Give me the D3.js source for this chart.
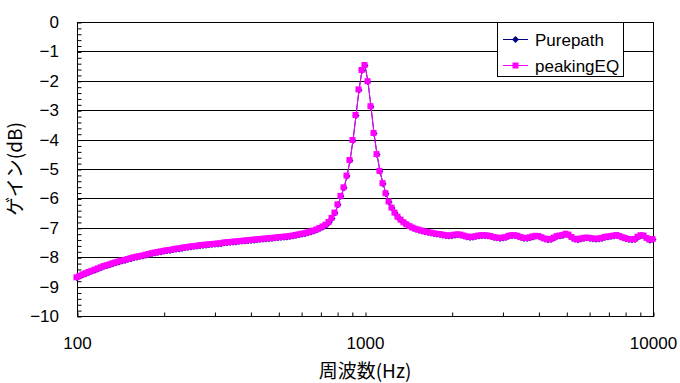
<!DOCTYPE html>
<html>
<head>
<meta charset="utf-8">
<script src="https://cdn.jsdelivr.net/npm/d3@7"></script>
<style>
  body { margin: 0; background: #fff; }
  svg { display: block; }
</style>
</head>
<body>
<div id="chart"></div>
<script>
// frequency grid (Hz)
const freqs = [
  100, 102.4, 104.9, 107.5, 110.1, 112.7, 115.5, 118.3, 121.2, 124.1,
  127.1, 130.2, 133.4, 136.6, 139.9, 143.3, 146.8, 150.3, 154.0, 157.7,
  161.6, 165.5, 169.5, 173.6, 177.8, 182.1, 186.6, 191.1, 195.7, 200.5,
  205.4, 210.3, 215.4, 220.7, 226.0, 231.5, 237.1, 242.9, 248.8, 254.8,
  261.0, 267.4, 273.8, 280.5, 287.3, 294.3, 301.4, 308.7, 316.2, 323.9,
  331.8, 339.8, 348.1, 356.5, 365.2, 374.0, 383.1, 392.4, 401.9, 411.7,
  421.7, 431.9, 442.4, 453.2, 464.2, 475.4, 487.0, 498.8, 510.9, 523.3,
  536.0, 549.0, 562.3, 576.0, 590.0, 604.3, 619.0, 634.0, 649.4, 665.1,
  681.3, 697.8, 714.8, 732.1, 749.9, 768.1, 786.7, 805.8, 825.4, 845.4,
  866.0, 887.0, 908.5, 930.6, 953.2, 976.3, 1000,
  1024, 1049, 1075, 1101, 1127, 1155, 1183, 1212, 1241, 1271,
  1302, 1334, 1366, 1399, 1433, 1468, 1503, 1540, 1577, 1616,
  1655, 1695, 1736, 1778, 1821, 1866, 1911, 1957, 2005, 2054,
  2103, 2154, 2207, 2260, 2315, 2371, 2429, 2488, 2548, 2610,
  2674, 2738, 2805, 2873, 2943, 3014, 3087, 3162, 3239, 3318,
  3398, 3481, 3565, 3652, 3740, 3831, 3924, 4019, 4117, 4217,
  4319, 4424, 4532, 4642, 4754, 4870, 4988, 5109, 5233, 5360,
  5490, 5623, 5760, 5900, 6043, 6190, 6340, 6494, 6651, 6813,
  6978, 7148, 7321, 7499, 7681, 7867, 8058, 8254, 8454, 8660,
  8870, 9085, 9306, 9532, 9763, 10000
];

// gain (dB) of the peakingEQ series
const peakingGain = [
  -8.70, -8.65, -8.60, -8.56, -8.52, -8.48, -8.44, -8.40, -8.36, -8.32,
  -8.29, -8.26, -8.22, -8.19, -8.16, -8.13, -8.11, -8.08, -8.05, -8.02,
  -8.00, -7.98, -7.96, -7.93, -7.91, -7.88, -7.86, -7.84, -7.82, -7.80,
  -7.78, -7.77, -7.75, -7.73, -7.72, -7.70, -7.68, -7.67, -7.65, -7.64,
  -7.63, -7.61, -7.60, -7.59, -7.58, -7.57, -7.56, -7.55, -7.54, -7.52,
  -7.51, -7.50, -7.49, -7.48, -7.47, -7.46, -7.45, -7.44, -7.43, -7.42,
  -7.41, -7.40, -7.39, -7.38, -7.37, -7.36, -7.35, -7.34, -7.33, -7.32,
  -7.31, -7.30, -7.28, -7.26, -7.24, -7.22, -7.20, -7.17, -7.14, -7.11,
  -7.07, -7.02, -6.97, -6.91, -6.82, -6.68, -6.50, -6.22, -5.93, -5.64,
  -5.24, -4.71, -4.03, -3.18, -2.31, -1.65, -1.48, -2.03, -2.88, -3.79,
  -4.51, -5.08, -5.50, -5.84, -6.12, -6.33, -6.50, -6.64, -6.74, -6.83,
  -6.90, -6.96, -7.01, -7.05, -7.08, -7.11, -7.14, -7.16, -7.18, -7.20,
  -7.22, -7.23, -7.25, -7.27, -7.28, -7.27, -7.25, -7.24, -7.25, -7.28,
  -7.31, -7.33, -7.32, -7.30, -7.28, -7.27, -7.27, -7.28, -7.30, -7.33,
  -7.35, -7.36, -7.35, -7.33, -7.29, -7.27, -7.27, -7.29, -7.33, -7.36,
  -7.36, -7.34, -7.31, -7.29, -7.30, -7.34, -7.38, -7.41, -7.40, -7.35,
  -7.30, -7.28, -7.26, -7.22, -7.25, -7.33, -7.39, -7.41, -7.38, -7.36,
  -7.35, -7.36, -7.38, -7.39, -7.38, -7.36, -7.33, -7.31, -7.30, -7.28,
  -7.26, -7.30, -7.34, -7.37, -7.40, -7.41, -7.40, -7.32, -7.27, -7.28,
  -7.36, -7.42, -7.40
];

// Purepath sits right under peakingEQ (only its marker tips peek out)
const purepathGain = peakingGain.slice();

const seriesNames = ["Purepath", "peakingEQ"];
const xMajor = [100, 1000, 10000];
const xMinor = [200, 300, 400, 500, 600, 700, 800, 900,
                2000, 3000, 4000, 5000, 6000, 7000, 8000, 9000];
const yMajor = [0, -1, -2, -3, -4, -5, -6, -7, -8, -9, -10];

const width = 680, height = 383;
const plotL = 77, plotR = 653, plotT = 22, plotB = 316;
const latin = "'Liberation Sans', Arial, sans-serif";
const cjk = "'Noto Sans CJK JP', sans-serif";

const svg = d3.select("#chart").append("svg")
  .attr("width", width)
  .attr("height", height);

const x = d3.scaleLog().domain([100, 10000]).range([plotL, plotR]);
const y = d3.scaleLinear().domain([0, -10]).range([plotT, plotB]);

// gridlines
svg.append("g")
  .selectAll("line")
  .data(yMajor)
  .join("line")
  .attr("x1", plotL).attr("x2", plotR)
  .attr("y1", d => Math.round(y(d)) + 0.5)
  .attr("y2", d => Math.round(y(d)) + 0.5)
  .attr("stroke", "#000");

// plot border
svg.append("rect")
  .attr("x", plotL + 0.5).attr("y", plotT + 0.5)
  .attr("width", plotR - plotL).attr("height", plotB - plotT)
  .attr("fill", "none").attr("stroke", "#000");

// y minor ticks (inside)
svg.append("g")
  .attr("transform", `translate(${plotL + 0.5},0.5)`)
  .call(d3.axisLeft(y).tickValues(d3.range(0, -10.01, -0.2)).tickSize(-4).tickFormat(""))
  .call(g => g.select(".domain").remove())
  .selectAll("line").attr("stroke", "#000");

// y labels
svg.append("g")
  .attr("transform", `translate(${plotL},0)`)
  .call(d3.axisLeft(y).tickValues(yMajor).tickSize(0).tickPadding(18)
    .tickFormat(d => d === 0 ? "0" : "\u2212" + Math.abs(d)))
  .call(g => g.select(".domain").remove())
  .selectAll("text")
  .attr("font-family", latin)
  .attr("font-size", 17)
  .attr("fill", "#000");

// x ticks (inside)
svg.append("g")
  .attr("transform", `translate(0.5,${plotB + 0.5})`)
  .call(d3.axisBottom(x).tickValues(xMajor.concat(xMinor)).tickSize(-4).tickFormat(""))
  .call(g => g.select(".domain").remove())
  .selectAll("line").attr("stroke", "#000");

// x labels
svg.append("g")
  .attr("transform", `translate(0,${plotB})`)
  .call(d3.axisBottom(x).tickValues(xMajor).tickSize(0).tickPadding(21)
    .tickFormat(d3.format("d")))
  .call(g => g.select(".domain").remove())
  .selectAll("text")
  .attr("font-family", latin)
  .attr("font-size", 17)
  .attr("fill", "#000");

// axis titles
svg.append("text")
  .attr("transform", `translate(22,${(plotT + plotB) / 2}) rotate(-90)`)
  .attr("text-anchor", "middle")
  .attr("font-family", cjk)
  .attr("font-size", 19)
  .text("ゲイン(dB)");

svg.append("text")
  .attr("x", (plotL + plotR) / 2)
  .attr("y", 378)
  .attr("text-anchor", "middle")
  .attr("font-family", cjk)
  .attr("font-size", 19)
  .text("周波数(Hz)");

const line = d3.line().x(d => x(d[0])).y(d => y(d[1]));
const pure = freqs.map((f, i) => [f, purepathGain[i]]);
const peak = freqs.map((f, i) => [f, peakingGain[i]]);

const diamond = (cx, cy, r) => `M${cx},${cy - r}L${cx + r},${cy}L${cx},${cy + r}L${cx - r},${cy}Z`;

// Purepath
svg.append("path")
  .attr("d", line(pure))
  .attr("fill", "none")
  .attr("stroke", "#000080");
svg.append("g")
  .selectAll("path")
  .data(pure)
  .join("path")
  .attr("d", d => diamond(x(d[0]), y(d[1]), 3.5))
  .attr("fill", "#000080");

// peakingEQ
svg.append("path")
  .attr("d", line(peak))
  .attr("fill", "none")
  .attr("stroke", "#ff00ff");
svg.append("g")
  .selectAll("rect")
  .data(peak)
  .join("rect")
  .attr("x", d => x(d[0]) - 3.5)
  .attr("y", d => y(d[1]) - 3.5)
  .attr("width", 6).attr("height", 6)
  .attr("fill", "#ff00ff");

// legend
const legend = svg.append("g");
legend.append("rect")
  .attr("x", 497.5).attr("y", 22.5)
  .attr("width", 126).attr("height", 54)
  .attr("fill", "#fff").attr("stroke", "#000");

const rows = legend.selectAll("g.row")
  .data(seriesNames)
  .join("g")
  .attr("transform", (d, i) => `translate(0,${i === 0 ? 39.5 : 65.5})`);

rows.append("line")
  .attr("x1", 503).attr("x2", 528)
  .attr("stroke", (d, i) => i === 0 ? "#000080" : "#ff00ff");

rows.each(function (d, i) {
  const g = d3.select(this);
  if (i === 0) {
    g.append("path").attr("d", diamond(515.5, 0, 3.5)).attr("fill", "#000080");
  } else {
    g.append("rect").attr("x", 512.5).attr("y", -3).attr("width", 6).attr("height", 6)
      .attr("fill", "#ff00ff");
  }
});

rows.append("text")
  .attr("x", 535)
  .attr("y", 6)
  .attr("font-family", latin)
  .attr("font-size", 17)
  .text(d => d);
</script>
</body>
</html>
